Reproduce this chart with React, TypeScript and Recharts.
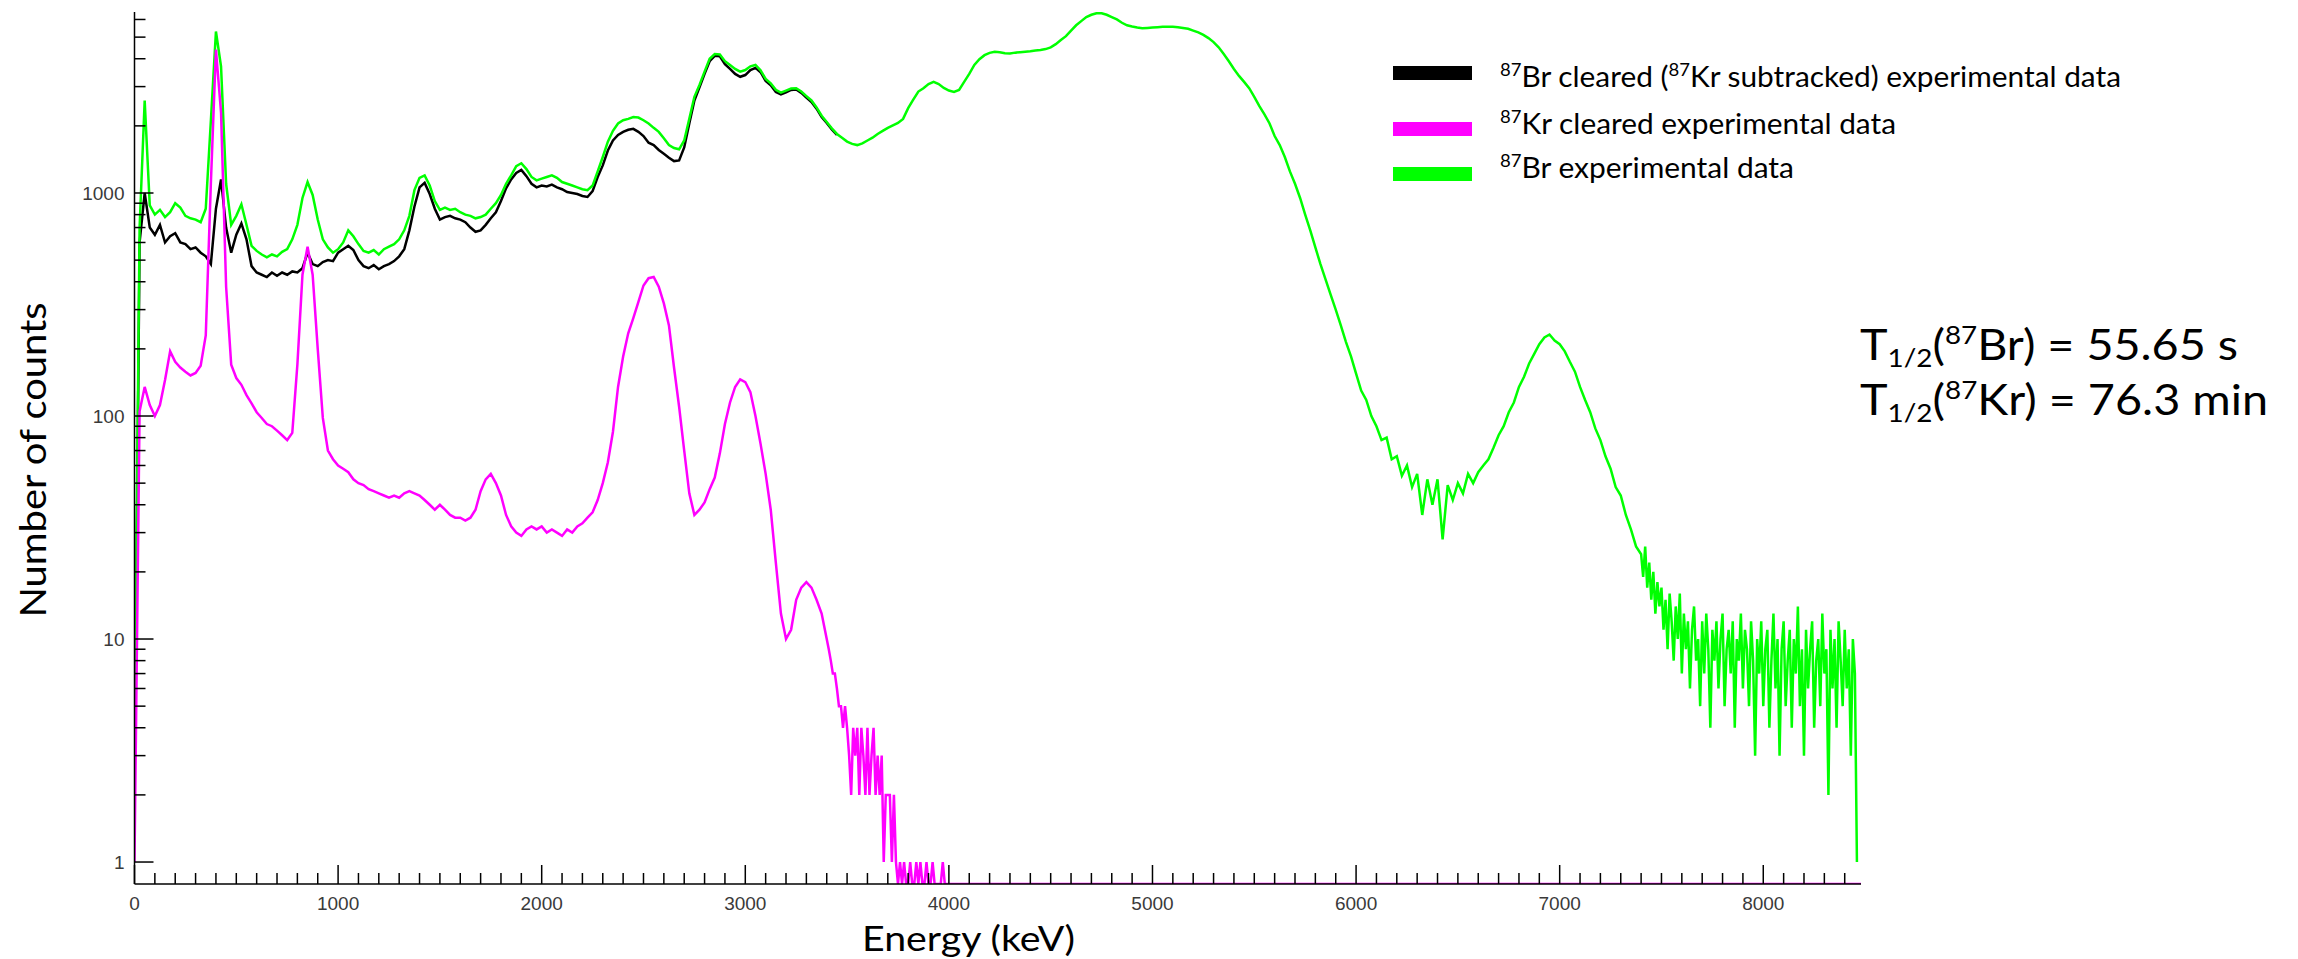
import React from 'react'
import { LineChart, Line, XAxis, YAxis } from 'recharts'

// spectra: 25 keV bins, finer 10 keV bins where the counts get noisy
const BIN_KEV = 25
const FINE_BIN_KEV = 10
const X_MAX = 8480
const Y_MIN = 0.797
const Y_MAX = 6481

// 87Br experimental data (green), 0 .. 7375 keV
const GREEN_COUNTS = [
  3, 700, 2600, 880, 800, 840, 780, 820, 900, 860, 790, 770, 760, 740, 850, 2100, 5300, 3700, 1100, 720,
  790, 890, 720, 580, 550, 530, 515, 530, 520, 545, 560, 620, 720, 950, 1120, 980, 760, 620, 570, 540,
  560, 600, 680, 640, 590, 550, 540, 555, 530, 560, 575, 590, 620, 680, 790, 1030, 1170, 1200, 1080, 920,
  840, 860, 840, 850, 820, 800, 790, 770, 780, 800, 850, 900, 980, 1100, 1200, 1320, 1360, 1280, 1180, 1140,
  1160, 1180, 1200, 1170, 1120, 1100, 1080, 1060, 1040, 1030, 1080, 1250, 1450, 1700, 1900, 2050, 2120, 2150, 2190, 2180,
  2120, 2050, 1960, 1880, 1760, 1640, 1590, 1570, 1720, 2150, 2700, 3050, 3500, 4000, 4200, 4180, 3900, 3750, 3600, 3500,
  3560, 3700, 3750, 3550, 3250, 3100, 2900, 2820, 2880, 2940, 2950, 2850, 2720, 2600, 2420, 2220, 2080, 1950, 1840, 1770,
  1700, 1660, 1640, 1670, 1720, 1770, 1840, 1900, 1960, 2010, 2060, 2150, 2400, 2620, 2850, 2950, 3080, 3150, 3080, 2960,
  2880, 2840, 2900, 3150, 3420, 3750, 3980, 4150, 4250, 4300, 4280, 4230, 4220, 4260, 4280, 4300, 4320, 4350, 4380, 4420,
  4500, 4650, 4850, 5050, 5350, 5650, 5900, 6150, 6300, 6400, 6400, 6300, 6150, 6000, 5800, 5650, 5580, 5520, 5480, 5500,
  5520, 5540, 5560, 5570, 5560, 5540, 5500, 5450, 5350, 5250, 5120, 4950, 4750, 4500, 4200, 3900, 3600, 3350, 3150, 2950,
  2700, 2450, 2250, 2050, 1800, 1640, 1450, 1250, 1100, 950, 800, 680, 570, 480, 410, 350, 300, 255, 215, 185,
  155, 130, 118, 100, 90, 78, 80, 64, 66, 54, 60, 48, 55, 36, 52, 40, 52, 28, 49, 42,
  50, 45, 55, 50, 56, 60, 64, 72, 82, 90, 104, 115, 135, 150, 172, 190, 210, 225, 232, 218,
  210, 195, 175, 158, 135, 118, 104, 88, 78, 66, 58, 48, 44, 36, 31, 26,
]
// green tail, 7400 .. 8460 keV
const GREEN_TAIL_COUNTS = [
  24, 19, 26, 17, 22, 15, 20, 13, 18, 14,
  17, 11, 15, 9, 16, 12, 8, 14, 10, 16,
  7, 13, 9, 12, 6, 11, 14, 8, 10, 5,
  12, 7, 13, 9, 4, 11, 8, 12, 6, 10,
  13, 5, 9, 11, 7, 12, 4, 10, 8, 13,
  6, 11, 9, 5, 12, 8, 3, 10, 7, 12,
  5, 9, 11, 4, 8, 13, 6, 10, 3, 9,
  12, 5, 8, 11, 4, 10, 7, 14, 5, 9,
  3, 11, 6, 9, 12, 4, 8, 10, 5, 13,
  7, 9, 2, 11, 6, 10, 4, 12, 8, 5,
  11, 6, 9, 3, 10, 7, 1,
]
const GREEN_TAIL_START = 7400

// 87Br cleared (87Kr subtracted), 0 .. 3450 keV (hidden under green above)
const BLACK_COUNTS = [
  2, 600, 1000, 700, 650, 720, 600, 640, 660, 600, 590, 560, 570, 540, 520, 480, 850, 1150, 700, 540,
  650, 730, 620, 470, 440, 430, 420, 440, 425, 440, 430, 445, 440, 460, 540, 480, 470, 490, 500, 495,
  540, 560, 580, 555, 500, 470, 460, 475, 455, 470, 480, 495, 520, 560, 680, 870, 1060, 1110, 990, 850,
  760, 780, 790, 770, 760, 740, 700, 670, 680, 720, 770, 820, 920, 1050, 1150, 1230, 1270, 1190, 1100, 1060,
  1080, 1070, 1090, 1060, 1040, 1010, 1000, 990, 970, 960, 1020, 1180, 1330, 1550, 1720, 1820, 1880, 1920, 1940, 1880,
  1800, 1680, 1640, 1560, 1500, 1440, 1390, 1400, 1600, 2050, 2600, 2980, 3420, 3900, 4120, 4100, 3780, 3600, 3420, 3320,
  3380, 3560, 3640, 3480, 3180, 3040, 2840, 2770, 2830, 2900, 2910, 2810, 2680, 2560, 2390, 2190, 2060, 1930, 1820,
]

// 87Kr cleared experimental data (magenta), 0 .. 3375 keV
const MAGENTA_COUNTS = [
  1, 105, 135, 112, 100, 112, 145, 195, 175, 165, 158, 152, 156, 168, 230, 1100, 4400, 2300, 380, 170,
  148, 138, 124, 114, 104, 98, 92, 90, 86, 82, 78, 84, 170, 430, 575, 430, 200, 98, 70, 64,
  60, 58, 56, 52, 50, 49, 47, 46, 45, 44, 43, 44, 43, 45, 46, 45, 44, 42, 40, 38,
  40, 38, 36, 35, 35, 34, 35, 38, 46, 52, 55, 50, 44, 36, 32, 30, 29, 31, 32, 31,
  32, 30, 31, 30, 29, 31, 30, 32, 33, 35, 37, 42, 50, 62, 85, 135, 185, 235, 275, 325,
  385, 415, 420, 380, 320, 255, 165, 110, 70, 45, 36, 38, 41, 47, 53, 68, 92, 115, 135, 146,
  142, 128, 100, 75, 55, 38, 22, 13, 10, 11, 15, 17, 18, 17, 15, 13,
]
// magenta tail, 3400 .. 4000 keV, nothing above
const MAGENTA_TAIL_COUNTS = [
  10, 9, 8, 7, 7, 6, 5, 5, 4, 5,
  4, 3, 2, 4, 3, 4, 2, 4, 3, 2,
  4, 2, 3, 4, 2, 3, 2, 3, 1, 2,
  2, 2, 1, 2, 1, 0, 1, 0, 1, 0,
  0, 1, 0, 0, 1, 0, 1, 0, 0, 1,
  0, 0, 1, 0, 0, 0, 0, 1, 0, 0,
  0,
]
const MAGENTA_TAIL_START = 3400

const X_LABELS = [0, 1000, 2000, 3000, 4000, 5000, 6000, 7000, 8000]
const Y_LABELS = [1, 10, 100, 1000]

const X_TICKS: number[] = []
for (let e = 0; e <= 8400; e += 100) X_TICKS.push(e)
const Y_TICKS: number[] = []
for (const d of Y_LABELS) for (let m = 1; m <= 9; m++) if (d * m < Y_MAX) Y_TICKS.push(d * m)

// empty bins are drawn on the bottom axis
const toPoints = (counts: number[], start: number, bin: number) =>
  counts.map((c, i) => ({ e: start + i * bin, c: Math.max(c, Y_MIN) }))

const blackPts = toPoints(BLACK_COUNTS, 0, BIN_KEV)
const greenPts = [
  ...toPoints(GREEN_COUNTS, 0, BIN_KEV),
  ...toPoints(GREEN_TAIL_COUNTS, GREEN_TAIL_START, FINE_BIN_KEV),
]
const magentaPts = [
  ...toPoints(MAGENTA_COUNTS, 0, BIN_KEV),
  ...toPoints(MAGENTA_TAIL_COUNTS, MAGENTA_TAIL_START, FINE_BIN_KEV),
  { e: X_MAX, c: Y_MIN },
]

const TICK_FONT = { fontFamily: 'Liberation Sans, Arial, sans-serif', fontSize: 19, fill: '#3a3a3a' }
const TEXT_FONT = 'Lato, "Open Sans", sans-serif'

function XTick(props: any) {
  const { x, y, payload } = props
  const v = payload.value as number
  const major = X_LABELS.includes(v)
  return (
    <g>
      <line x1={x} x2={x} y1={y} y2={y - (major ? 19 : 11)} stroke="#000" strokeWidth={1.5} />
      {major && (
        <text x={x} y={y + 19} textAnchor="middle" dominantBaseline="central" {...TICK_FONT}>{v}</text>
      )}
    </g>
  )
}

function YTick(props: any) {
  const { x, y, payload } = props
  const v = payload.value as number
  const major = Y_LABELS.includes(v)
  return (
    <g>
      <line x1={x} x2={x + (major ? 19 : 11)} y1={y} y2={y} stroke="#000" strokeWidth={1.5} />
      {major && (
        <text x={x - 10} y={y} textAnchor="end" dominantBaseline="central" {...TICK_FONT}>{v}</text>
      )}
    </g>
  )
}

export default function App() {
  return (
    <div style={{ position: 'absolute', left: 0, top: 0, width: 2298, height: 959, background: '#fff' }}>
      <LineChart width={2298} height={959} margin={{ top: 12, right: 437, bottom: 45, left: 74.5 }}>
        <XAxis dataKey="e" type="number" domain={[0, X_MAX]} allowDataOverflow ticks={X_TICKS} interval={0}
          tickSize={0} tickMargin={0} tick={<XTick />} tickLine={false} height={30}
          axisLine={{ stroke: '#000', strokeWidth: 1.5 }} />
        <YAxis type="number" scale="log" domain={[Y_MIN, Y_MAX]} allowDataOverflow ticks={Y_TICKS} interval={0}
          tickSize={0} tickMargin={0} tick={<YTick />} tickLine={false} width={60}
          axisLine={{ stroke: '#000', strokeWidth: 1.5 }} />
        <Line data={blackPts} dataKey="c" type="linear" stroke="#000000" strokeWidth={2.5} dot={false} isAnimationActive={false} />
        <Line data={greenPts} dataKey="c" type="linear" stroke="#00ff00" strokeWidth={2.5} dot={false} isAnimationActive={false} />
        <Line data={magentaPts} dataKey="c" type="linear" stroke="#ff00ff" strokeWidth={2.5} dot={false} isAnimationActive={false} />
      </LineChart>

      <svg width={2298} height={959} style={{ position: 'absolute', left: 0, top: 0, pointerEvents: 'none' }}>
        <text x={862} y={951} fontFamily={TEXT_FONT} fontSize={35} fill="#000" textLength={213} lengthAdjust="spacingAndGlyphs">
          Energy (keV)
        </text>
        <text transform="translate(46,460) rotate(-90)" textAnchor="middle" fontFamily={TEXT_FONT} fontSize={36} fill="#000"
          textLength={315} lengthAdjust="spacingAndGlyphs">
          Number of counts
        </text>

        <rect x={1393} y={66} width={79} height={14} fill="#000000" />
        <rect x={1393} y={122} width={79} height={14} fill="#ff00ff" />
        <rect x={1393} y={167} width={79} height={14} fill="#00ff00" />
        <g fontFamily={TEXT_FONT} fontSize={29} fill="#000">
          <text x={1500} y={87} textLength={621} lengthAdjust="spacingAndGlyphs">
            <tspan fontSize={18} dy={-11}>87</tspan><tspan dy={11}>Br cleared (</tspan>
            <tspan fontSize={18} dy={-11}>87</tspan><tspan dy={11}>Kr subtracked) experimental data</tspan>
          </text>
          <text x={1500} y={134} textLength={396} lengthAdjust="spacingAndGlyphs">
            <tspan fontSize={18} dy={-11}>87</tspan><tspan dy={11}>Kr cleared experimental data</tspan>
          </text>
          <text x={1500} y={178} textLength={294} lengthAdjust="spacingAndGlyphs">
            <tspan fontSize={18} dy={-11}>87</tspan><tspan dy={11}>Br experimental data</tspan>
          </text>
        </g>

        <g fontFamily={TEXT_FONT} fontSize={42} fill="#000">
          <text x={1860} y={360} textLength={378} lengthAdjust="spacingAndGlyphs">
            T<tspan fontSize={25} dy={7}>1/2</tspan><tspan dy={-7}>(</tspan><tspan fontSize={25} dy={-16}>87</tspan>
            <tspan dy={16}>Br) = 55.65 s</tspan>
          </text>
          <text x={1860} y={415} textLength={408} lengthAdjust="spacingAndGlyphs">
            T<tspan fontSize={25} dy={7}>1/2</tspan><tspan dy={-7}>(</tspan><tspan fontSize={25} dy={-16}>87</tspan>
            <tspan dy={16}>Kr) = 76.3 min</tspan>
          </text>
        </g>
      </svg>
    </div>
  )
}
